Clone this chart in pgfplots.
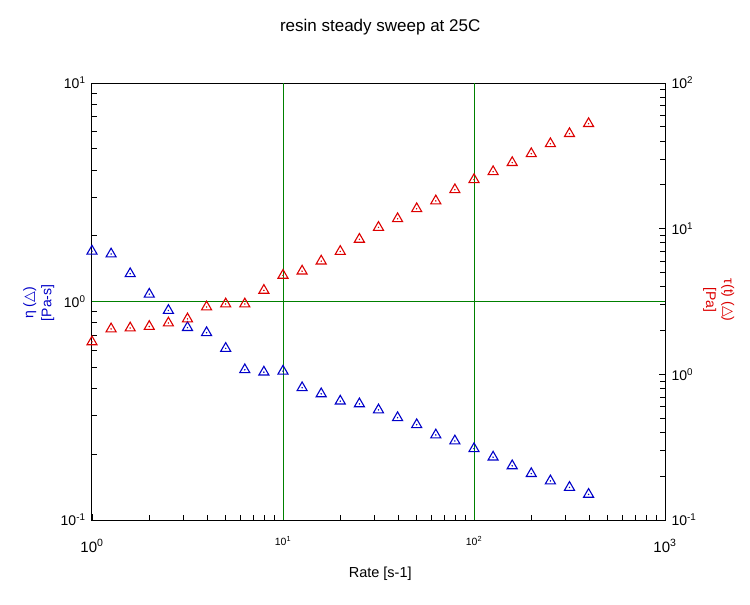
\documentclass[border=0pt]{standalone}
\usepackage{pgfplots}
\usepackage{pgfplotstable}
\pgfplotsset{compat=1.18}
\usepackage{fontspec}
\setmainfont{Liberation Sans}
\newfontfamily\dejavu{DejaVu Sans}
\definecolor{myblue}{RGB}{0,0,200}
\definecolor{myred}{RGB}{220,0,0}
\definecolor{mygreen}{RGB}{0,128,0}

\pgfplotstableread{
x y
1 1.70
1.259 1.65
1.585 1.34
1.995 1.08
2.512 0.91
3.162 0.76
3.981 0.72
5.012 0.61
6.310 0.487
7.943 0.475
10 0.480
12.59 0.403
15.85 0.378
19.95 0.350
25.12 0.340
31.62 0.319
39.81 0.294
50.12 0.273
63.10 0.245
79.43 0.230
100 0.212
125.9 0.194
158.5 0.177
199.5 0.163
251.2 0.151
316.2 0.141
398.1 0.131
}\etadata

\pgfplotstableread{
x y
1 1.67
1.259 2.05
1.585 2.08
1.995 2.13
2.512 2.25
3.162 2.40
3.981 2.90
5.012 3.04
6.310 3.04
7.943 3.77
10 4.78
12.59 5.11
15.85 5.99
19.95 6.98
25.12 8.45
31.62 10.2
39.81 11.7
50.12 13.7
63.10 15.5
79.43 18.5
100 21.7
125.9 24.6
158.5 28.4
199.5 32.7
251.2 38.3
316.2 44.9
398.1 52.6
}\taudata

\newcommand{\bigtl}[1]{{\fontsize{15}{15}\selectfont 10\textsuperscript{#1}}}
\newcommand{\smltl}[1]{\raisebox{7pt}{\fontsize{10.5}{10.5}\selectfont 10\textsuperscript{#1}}}
\newcommand{\ytl}[1]{{\fontsize{14}{14}\selectfont 10\textsuperscript{#1}}}

\begin{document}
\begin{tikzpicture}[x=1pt,y=1pt]
\path[use as bounding box] (-92,-85) rectangle (658,520);
\begin{axis}[
  scale only axis, width=573pt, height=437pt,
  at={(0,0)}, anchor=south west,
  xmode=log, ymode=log,
  xmin=1, xmax=1000, ymin=0.1, ymax=10,
  xtick={1,10,100,1000},
  xticklabels={\bigtl{0},\smltl{1},\smltl{2},\bigtl{3}},
  minor xtick={2,3,4,5,6,7,8,9,20,30,40,50,60,70,80,90,200,300,400,500,600,700,800,900},
  ytick={0.1,1,10},
  yticklabels={\ytl{-1},\ytl{0},\ytl{1}},
  minor ytick={0.2,0.3,0.4,0.5,0.6,0.7,0.8,0.9,2,3,4,5,6,7,8,9},
  xtick pos=left, ytick pos=left, tick align=inside,
  major tick length=6pt, minor tick length=5pt,
  tick style={black, line width=0.8pt},
  axis line style={line width=1pt},
  xticklabel style={anchor=base, yshift=-32pt},
  yticklabel style={anchor=east, xshift=-3pt},
  extra x ticks={10,100}, extra x tick labels={},
  extra x tick style={grid=major, tick style={draw=none}},
  extra y ticks={1}, extra y tick labels={},
  extra y tick style={grid=major, tick style={draw=none}},
  major grid style={mygreen, line width=1pt},
  title={resin steady sweep at 25C},
  title style={at={(axis description cs:0.503,1.114)}, anchor=center, font=\fontsize{17}{17}\selectfont},
  xlabel={Rate [s-1]},
  xlabel style={at={(axis description cs:0.503,-0.122)}, anchor=center, font=\fontsize{14.5}{14.5}\selectfont},
  ylabel={η ({\dejavu △})\\{}[Pa-s]},
  ylabel style={at={(axis description cs:-0.093,0.497)}, anchor=center, rotate=0, align=center, text=myblue, font=\fontsize{14}{18}\selectfont},
]
\addplot[only marks, mark=triangle, mark size=5.8pt, myblue, mark options={line width=1.1pt}] table[x=x,y=y] {\etadata};
\addplot[only marks, mark=*, mark size=0.5pt, myblue] table[x=x,y=y] {\etadata};
\end{axis}
\begin{axis}[
  scale only axis, width=573pt, height=437pt,
  at={(0,0)}, anchor=south west,
  xmode=log, ymode=log,
  xmin=1, xmax=1000, ymin=0.1, ymax=100,
  axis x line=none,
  axis y line*=right,
  ytick={0.1,1,10,100},
  yticklabels={\ytl{-1},\ytl{0},\ytl{1},\ytl{2}},
  minor ytick={0.2,0.3,0.4,0.5,0.6,0.7,0.8,0.9,2,3,4,5,6,7,8,9,20,30,40,50,60,70,80,90},
  tick align=inside,
  major tick length=6pt, minor tick length=5pt,
  tick style={black, line width=0.8pt},
  axis line style={line width=1pt, -},
  yticklabel style={anchor=west, xshift=3pt},
  ylabel={τ(t) ({\dejavu △})\\{}[Pa]},
  ylabel style={at={(axis description cs:1.094,0.503)}, anchor=center, rotate=180, align=center, text=myred, font=\fontsize{14}{18}\selectfont},
]
\addplot[only marks, mark=triangle, mark size=5.8pt, myred, mark options={line width=1.1pt}] table[x=x,y=y] {\taudata};
\addplot[only marks, mark=*, mark size=0.5pt, myred] table[x=x,y=y] {\taudata};
\end{axis}
\end{tikzpicture}
\end{document}
